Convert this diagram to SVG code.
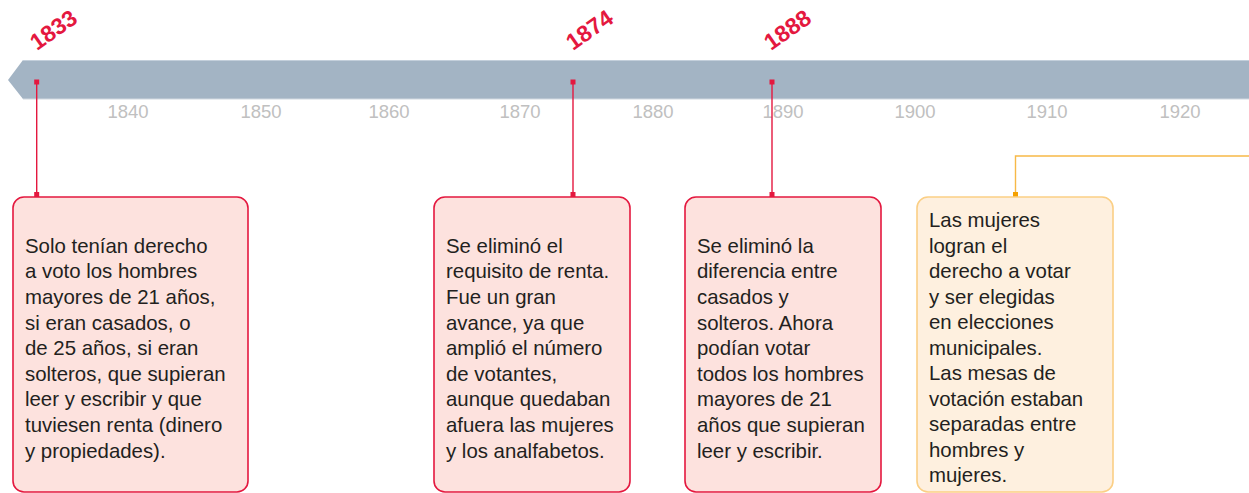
<svg xmlns="http://www.w3.org/2000/svg" width="1249" height="493" viewBox="0 0 1249 493">
<style>
.tick{font-family:"Liberation Sans",Arial,sans-serif;font-size:18.5px;fill:#c0c0c0;text-anchor:middle}
.year{font-family:"Liberation Sans",Arial,sans-serif;font-size:23px;font-weight:bold;fill:#e4183f}
.body{font-family:"Liberation Sans",Arial,sans-serif;font-size:20.4px;fill:#231f20}
.rbox{fill:#fde2de;stroke:#e4183f;stroke-width:1.6}
.obox{fill:#fef0df;stroke:#fbcf85;stroke-width:1.6}
.rline{stroke:#e4183f;stroke-width:1.4;fill:none}
.oline{stroke:#f7b947;stroke-width:1.4;fill:none}
.rdot{fill:#e4183f}
.odot{fill:#f5a100}
</style>
<g id="timeline">
<path d="M8,80 L23,60 L1249,60 L1249,99 L23,99 Z" fill="#a3b4c4"/>
<path d="M23,60.5 L1249,60.5" stroke="#c3cfdb" stroke-width="1"/>
<path d="M23,99 L1249,99" stroke="#d0d8e0" stroke-width="1"/>
<text class="tick" x="128" y="118">1840</text>
<text class="tick" x="261" y="118">1850</text>
<text class="tick" x="389" y="118">1860</text>
<text class="tick" x="520" y="118">1870</text>
<text class="tick" x="653" y="118">1880</text>
<text class="tick" x="783" y="118">1890</text>
<text class="tick" x="915" y="118">1900</text>
<text class="tick" x="1047" y="118">1910</text>
<text class="tick" x="1180" y="118">1920</text>
</g>
<g id="years">
<text class="year" transform="translate(37,51) rotate(-35)">1833</text>
<text class="year" transform="translate(573,51) rotate(-35)">1874</text>
<text class="year" transform="translate(771,51) rotate(-35)">1888</text>
</g>
<g id="connectors">
<path class="rline" d="M36.7,82 V195"/>
<rect class="rdot" x="34.2" y="79.5" width="5" height="5"/>
<rect class="rdot" x="34.2" y="192" width="5" height="5"/>
<path class="rline" d="M573,82 V195"/>
<rect class="rdot" x="570.5" y="79.5" width="5" height="5"/>
<rect class="rdot" x="570.5" y="192" width="5" height="5"/>
<path class="rline" d="M772,82 V195"/>
<rect class="rdot" x="769.5" y="79.5" width="5" height="5"/>
<rect class="rdot" x="769.5" y="192" width="5" height="5"/>
<path class="oline" d="M1015.5,195 V156 H1249"/>
<rect class="odot" x="1013" y="192" width="5" height="5"/>
</g>
<g id="node1">
<rect class="rbox" x="13" y="197" width="235" height="295" rx="11"/>
<text class="body" x="25" y="252.7">
<tspan x="25" dy="0">Solo tenían derecho</tspan>
<tspan x="25" dy="25.6">a voto los hombres</tspan>
<tspan x="25" dy="25.6">mayores de 21 años,</tspan>
<tspan x="25" dy="25.6">si eran casados, o</tspan>
<tspan x="25" dy="25.6">de 25 años, si eran</tspan>
<tspan x="25" dy="25.6">solteros, que supieran</tspan>
<tspan x="25" dy="25.6">leer y escribir y que</tspan>
<tspan x="25" dy="25.6">tuviesen renta (dinero</tspan>
<tspan x="25" dy="25.6">y propiedades).</tspan>
</text>
</g>
<g id="node2">
<rect class="rbox" x="434" y="197" width="196" height="295" rx="11"/>
<text class="body" x="446" y="252.7">
<tspan x="446" dy="0">Se eliminó el</tspan>
<tspan x="446" dy="25.6">requisito de renta.</tspan>
<tspan x="446" dy="25.6">Fue un gran</tspan>
<tspan x="446" dy="25.6">avance, ya que</tspan>
<tspan x="446" dy="25.6">amplió el número</tspan>
<tspan x="446" dy="25.6">de votantes,</tspan>
<tspan x="446" dy="25.6">aunque quedaban</tspan>
<tspan x="446" dy="25.6">afuera las mujeres</tspan>
<tspan x="446" dy="25.6">y los analfabetos.</tspan>
</text>
</g>
<g id="node3">
<rect class="rbox" x="685" y="197" width="196" height="295" rx="11"/>
<text class="body" x="697" y="252.7">
<tspan x="697" dy="0">Se eliminó la</tspan>
<tspan x="697" dy="25.6">diferencia entre</tspan>
<tspan x="697" dy="25.6">casados y</tspan>
<tspan x="697" dy="25.6">solteros. Ahora</tspan>
<tspan x="697" dy="25.6">podían votar</tspan>
<tspan x="697" dy="25.6">todos los hombres</tspan>
<tspan x="697" dy="25.6">mayores de 21</tspan>
<tspan x="697" dy="25.6">años que supieran</tspan>
<tspan x="697" dy="25.6">leer y escribir.</tspan>
</text>
</g>
<g id="node4">
<rect class="obox" x="917" y="197" width="196" height="295" rx="11"/>
<text class="body" x="929" y="227">
<tspan x="929" dy="0">Las mujeres</tspan>
<tspan x="929" dy="25.5">logran el</tspan>
<tspan x="929" dy="25.5">derecho a votar</tspan>
<tspan x="929" dy="25.5">y ser elegidas</tspan>
<tspan x="929" dy="25.5">en elecciones</tspan>
<tspan x="929" dy="25.5">municipales.</tspan>
<tspan x="929" dy="25.5">Las mesas de</tspan>
<tspan x="929" dy="25.5">votación estaban</tspan>
<tspan x="929" dy="25.5">separadas entre</tspan>
<tspan x="929" dy="25.5">hombres y</tspan>
<tspan x="929" dy="25.5">mujeres.</tspan>
</text>
</g>
</svg>
